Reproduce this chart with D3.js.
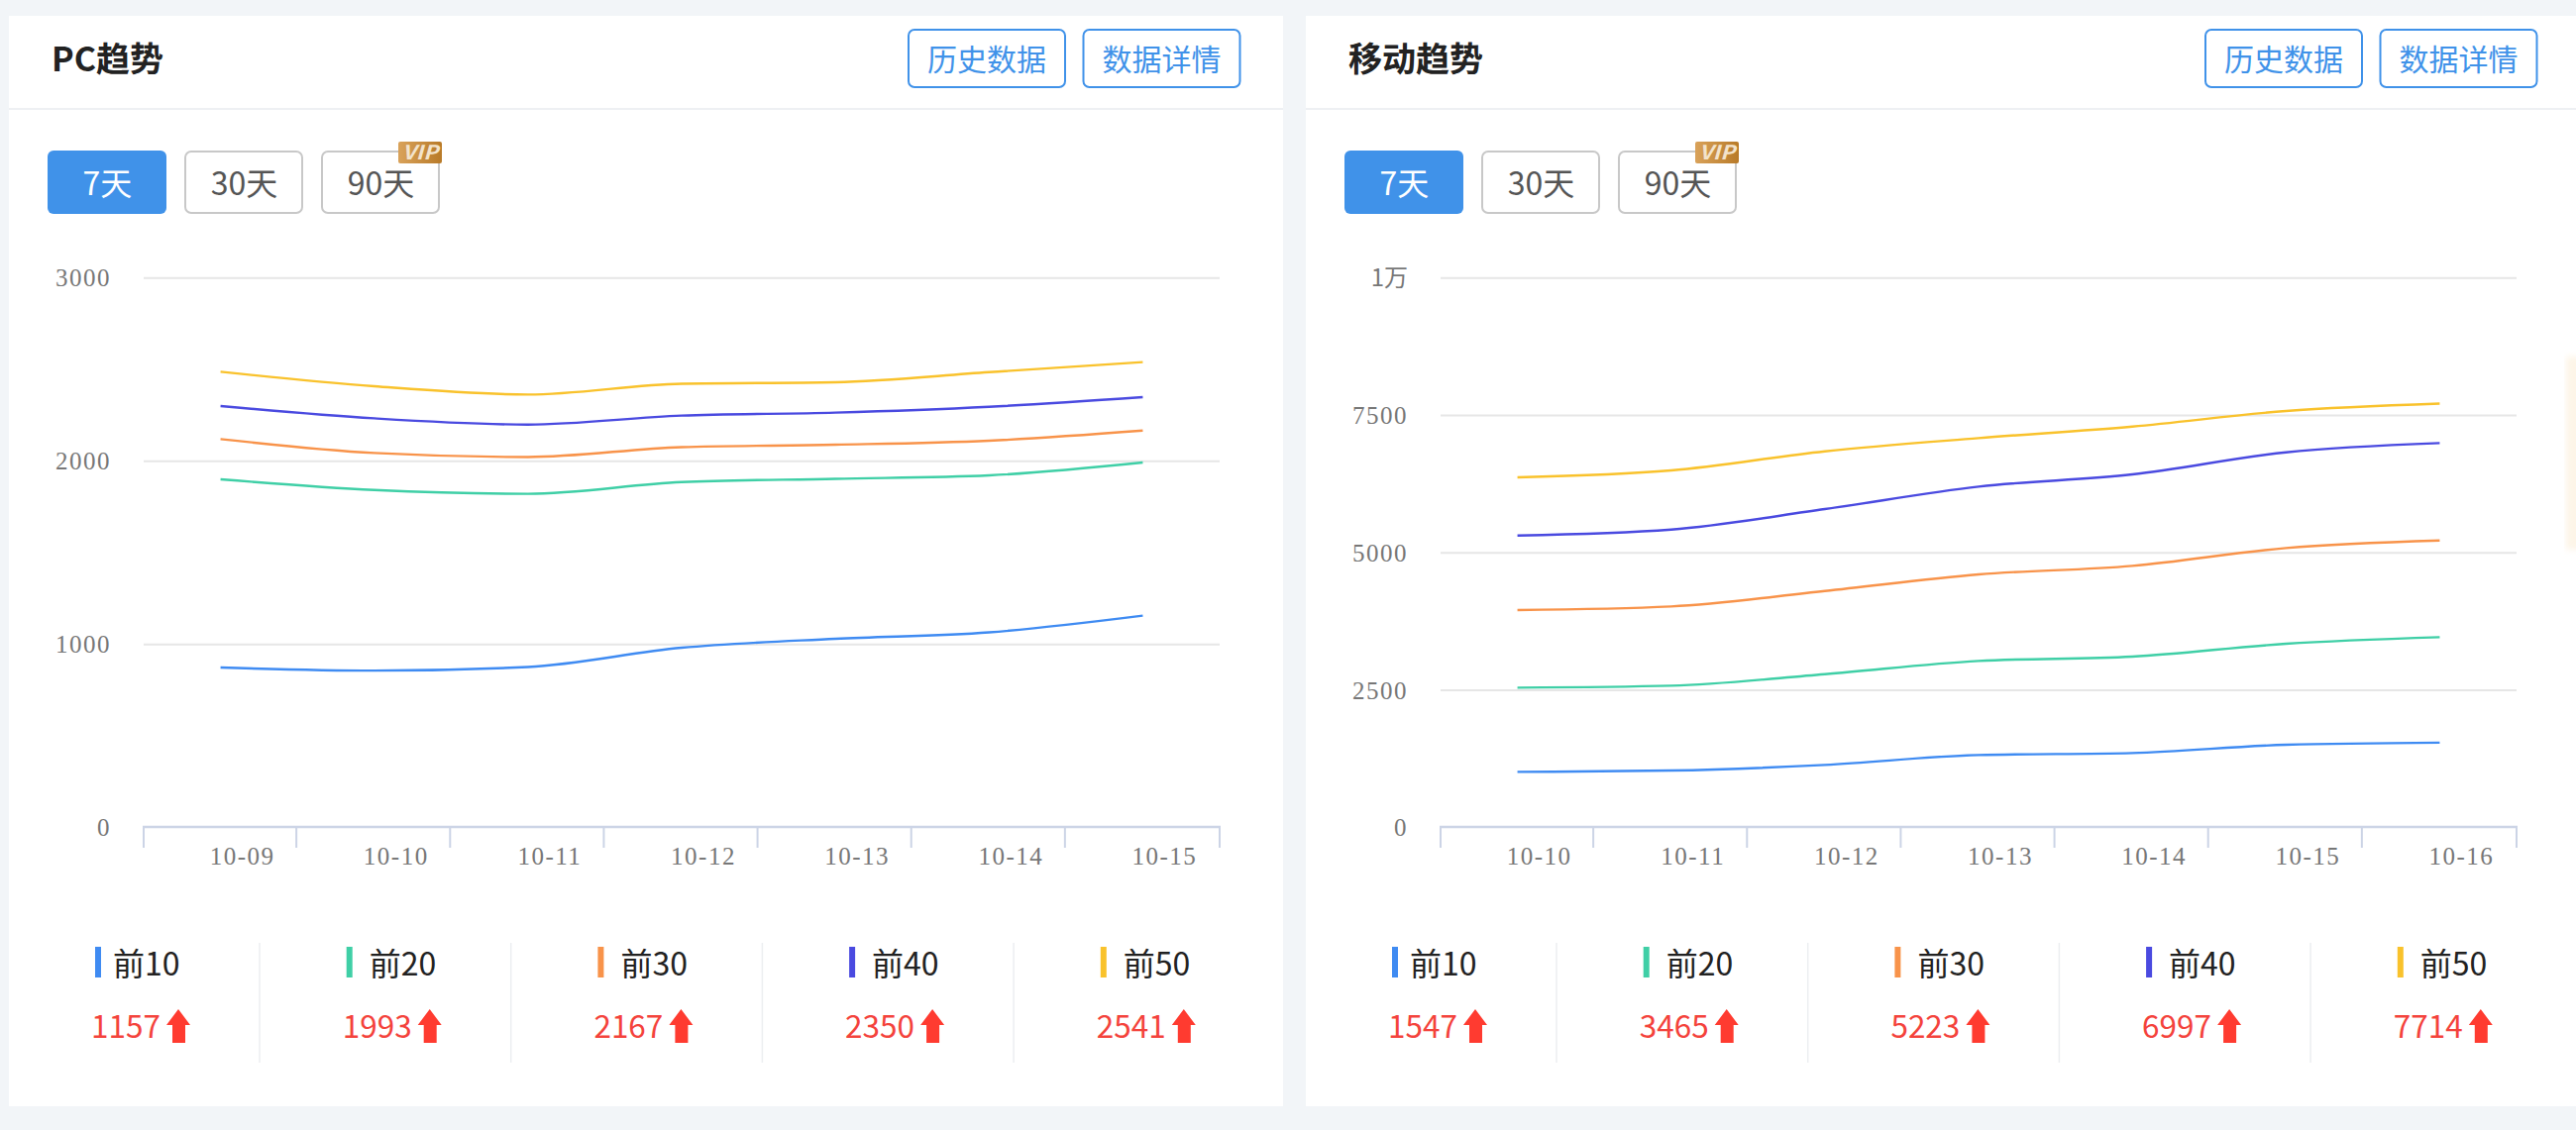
<!DOCTYPE html>
<html>
<head>
<meta charset="utf-8">
<script src="https://cdnjs.cloudflare.com/ajax/libs/d3/7.8.5/d3.min.js"></script>
<style>
  html, body { margin: 0; padding: 0; background: #f2f5f8; overflow: hidden; }
  svg { display: block; }
  text { font-family: "Noto Sans CJK SC", "Noto Sans", sans-serif; }
</style>
</head>
<body>
<svg id="chart" width="2600" height="1141"></svg>
<script>
const seriesNames = ['前10', '前20', '前30', '前40', '前50']
const seriesColors = ['#3f8bf2', '#3fcfa6', '#f8934a', '#4a4ae0', '#f9c22c']

const pcDates = ['10-09', '10-10', '10-11', '10-12', '10-13', '10-14', '10-15']
const pcTop10 = [874, 857, 877, 982, 1031, 1066, 1157]
const pcTop20 = [1901, 1843, 1822, 1886, 1904, 1923, 1993]
const pcTop30 = [2121, 2045, 2023, 2077, 2090, 2112, 2167]
const pcTop40 = [2301, 2234, 2200, 2249, 2265, 2297, 2350]
const pcTop50 = [2488, 2409, 2364, 2423, 2431, 2486, 2541]
const pcTicks = [0, 1000, 2000, 3000]
const pcTickLabels = ['0', '1000', '2000', '3000']

const mobileDates = ['10-10', '10-11', '10-12', '10-13', '10-14', '10-15', '10-16']
const mobileTop10 = [1015, 1039, 1141, 1321, 1357, 1508, 1547]
const mobileTop20 = [2547, 2583, 2793, 3033, 3111, 3345, 3465]
const mobileTop30 = [3958, 4024, 4306, 4607, 4763, 5087, 5223]
const mobileTop40 = [5315, 5423, 5796, 6204, 6426, 6829, 6997]
const mobileTop50 = [6372, 6499, 6847, 7087, 7297, 7580, 7714]
const mobileTicks = [0, 2500, 5000, 7500, 10000]
const mobileTickLabels = ['0', '2500', '5000', '7500', '1万']

const rangeLabels = ['7天', '30天', '90天']
const headerButtons = ['历史数据', '数据详情']

const svg = d3.select('#chart')
const blue = '#4092e9'
const red = '#ff3b30'

const defs = svg.append('defs')
const vipGradient = defs.append('linearGradient').attr('id', 'vip')
vipGradient.append('stop').attr('offset', '0%').attr('stop-color', '#d9a25a')
vipGradient.append('stop').attr('offset', '100%').attr('stop-color', '#b87a28')
defs.append('filter').attr('id', 'soft').append('feGaussianBlur').attr('stdDeviation', 3)

const drawPanel = (panelX, panelWidth, title, dates, series, ticks, tickLabels, maxY) => {
  // everything inside a panel is placed relative to the left panel
  const offset = panelX - 9
  const g = svg.append('g').attr('transform', `translate(${offset},0)`)

  g.append('rect').attr('x', 9).attr('y', 16).attr('width', panelWidth).attr('height', 1101).attr('fill', '#fff')
  g.append('line').attr('x1', 9).attr('x2', 9 + panelWidth).attr('y1', 110).attr('y2', 110)
    .attr('stroke', '#eef0f3').attr('stroke-width', 2)

  g.append('text').attr('x', 52).attr('y', 72).attr('font-size', 34).attr('font-weight', 700)
    .attr('fill', '#222').text(title)

  headerButtons.forEach((label, i) => {
    const x = 917 + i * 176.5
    g.append('rect').attr('x', x).attr('y', 30).attr('width', 158).attr('height', 58).attr('rx', 6)
      .attr('fill', '#fff').attr('stroke', blue).attr('stroke-width', 2)
    g.append('text').attr('x', x + 79).attr('y', 71).attr('text-anchor', 'middle')
      .attr('font-size', 30).attr('fill', blue).text(label)
  })

  rangeLabels.forEach((label, i) => {
    const x = 48 + i * 138
    const active = i === 0
    g.append('rect').attr('x', active ? x : x + 1).attr('y', active ? 152 : 153)
      .attr('width', active ? 120 : 118).attr('height', active ? 64 : 62).attr('rx', 6)
      .attr('fill', active ? blue : '#fff').attr('stroke', active ? 'none' : '#c8c8c8').attr('stroke-width', 2)
    g.append('text').attr('x', x + 60.5).attr('y', 197).attr('text-anchor', 'middle')
      .attr('font-size', 32).attr('fill', active ? '#fff' : '#555').text(label)
  })
  g.append('rect').attr('x', 402).attr('y', 143).attr('width', 44).attr('height', 22).attr('rx', 2)
    .attr('fill', 'url(#vip)')
  g.append('text').attr('x', 406).attr('y', 161).attr('textLength', 36).attr('lengthAdjust', 'spacingAndGlyphs')
    .attr('font-size', 20).attr('font-weight', 700).attr('font-style', 'italic')
    .attr('fill', '#f3e3cb').text('VIP')

  const x = d3.scaleBand().domain(dates).range([145, 1231])
  const y = d3.scaleLinear().domain([0, maxY]).range([835.7, 280.7])

  const grid = g.append('g')
  grid.selectAll('line').data(ticks.filter(t => t > 0)).enter().append('line')
    .attr('x1', 145).attr('x2', 1231)
    .attr('y1', d => y(d)).attr('y2', d => y(d))
    .attr('stroke', '#e6e6e6').attr('stroke-width', 2)

  const yAxis = d3.axisLeft(y).tickValues(ticks).tickFormat((d, i) => tickLabels[i]).tickSize(0).tickPadding(0)
  const yG = g.append('g').attr('transform', 'translate(112,0)').call(yAxis)
  yG.select('.domain').remove()
  yG.selectAll('text').attr('font-size', 25).attr('fill', '#777').attr('letter-spacing', 1.5)
    .style('font-family', '"Liberation Serif", serif').attr('dy', '0.33em')
  // the 1万 label sits closer to the axis and uses the sans face
  yG.selectAll('.tick').filter(d => d === 10000).select('text')
    .style('font-family', '"Noto Sans CJK SC", sans-serif').attr('font-size', 24).attr('letter-spacing', 0)

  const xAxis = d3.axisBottom(x).tickSize(0).tickPadding(0)
  const xG = g.append('g').attr('transform', 'translate(0,835)').call(xAxis)
  xG.select('.domain').remove()
  xG.selectAll('text').attr('font-size', 25).attr('fill', '#777').attr('letter-spacing', 1.5)
    .style('font-family', '"Liberation Serif", serif')
    .attr('x', 22).attr('y', 38).attr('dy', 0)

  const edges = dates.map((d, i) => i === 0 ? x(d) : x(d) - 1).concat([x.range()[1]])
  g.append('g').selectAll('line').data(edges).enter().append('line')
    .attr('x1', d => d).attr('x2', d => d).attr('y1', 835).attr('y2', 856)
    .attr('stroke', '#ccd4e6').attr('stroke-width', 2)
  g.append('line').attr('x1', 144).attr('x2', 1232).attr('y1', 835).attr('y2', 835)
    .attr('stroke', '#ccd4e6').attr('stroke-width', 2.5)

  const line = d3.line()
    .x((d, i) => x(dates[i]) + x.bandwidth() / 2)
    .y(d => y(d))
    .curve(d3.curveMonotoneX)
  g.append('g').selectAll('path').data(series).enter().append('path')
    .attr('d', line).attr('fill', 'none')
    .attr('stroke', (d, i) => seriesColors[i]).attr('stroke-width', 2.4)

  // legend row under the chart
  const legendX = d3.scaleLinear().domain([0, 1]).range([0, 253.7])
  seriesNames.forEach((name, i) => {
    const dx = legendX(i)
    const item = g.append('g').attr('transform', `translate(${dx},0)`)
    item.append('rect').attr('x', 96).attr('y', 956).attr('width', 6).attr('height', 31)
      .attr('fill', seriesColors[i])
    item.append('text').attr('x', i === 0 ? 114 : 119).attr('y', 985).attr('font-size', 32).attr('fill', '#222').text(name)
    const last = series[i][series[i].length - 1]
    item.append('text').attr('x', 92).attr('y', 1048).attr('font-size', 31.5).attr('fill', '#f4433c').text(last)
    item.append('path')
      .attr('d', 'M180 1019L192 1035L187 1035L187 1053L174 1053L174 1035L168 1035Z')
      .attr('fill', red)
    if (i < 4) {
      item.append('line').attr('x1', 262).attr('x2', 262).attr('y1', 952).attr('y2', 1073)
        .attr('stroke', '#eceef1').attr('stroke-width', 1.5)
    }
  })
}

drawPanel(9, 1286, 'PC趋势', pcDates, [pcTop10, pcTop20, pcTop30, pcTop40, pcTop50], pcTicks, pcTickLabels, 3000)
drawPanel(1318, 1282, '移动趋势', mobileDates, [mobileTop10, mobileTop20, mobileTop30, mobileTop40, mobileTop50], mobileTicks, mobileTickLabels, 10000)

// faint cream glow on the right edge of the page
svg.append('rect').attr('x', 2590).attr('y', 360).attr('width', 20).attr('height', 195)
  .attr('fill', '#fdf5e8').attr('filter', 'url(#soft)')
</script>
</body>
</html>
